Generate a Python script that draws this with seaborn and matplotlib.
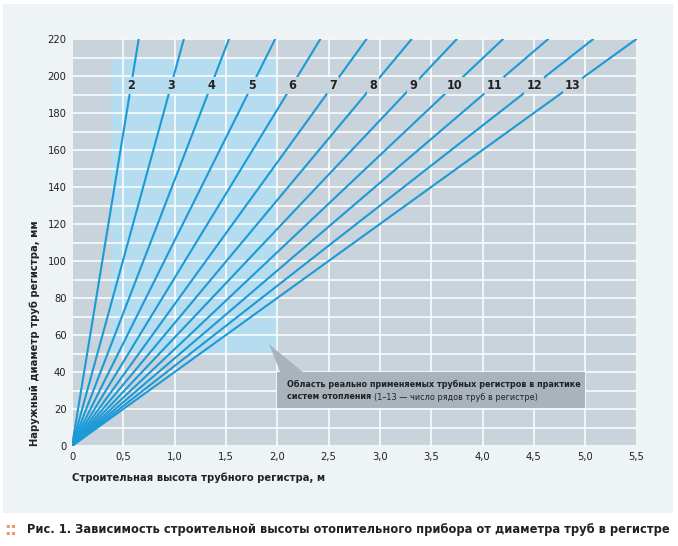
import matplotlib
matplotlib.use("Agg")
import matplotlib.pyplot as plt
from matplotlib.patches import Rectangle, Polygon
from matplotlib.ticker import FuncFormatter, MultipleLocator
import pandas as pd
import seaborn as sns

# number of pipe rows and the register height (m) where each line reaches d = 220 mm
rows = [2, 3, 4, 5, 6, 7, 8, 9, 10, 11, 12, 13]
height_at_220 = [0.65, 1.09, 1.53, 1.98, 2.42, 2.87, 3.31, 3.75, 4.20, 4.64, 5.08, 5.50]
d_top = 220
label_d = 195

x_ticks = [0, 0.5, 1.0, 1.5, 2.0, 2.5, 3.0, 3.5, 4.0, 4.5, 5.0, 5.5]
y_ticks = list(range(0, 221, 20))

# practical area (x0, x1, y0, y1)
area = [0.38, 2.0, 50, 210]

BG = "#eef3f6"
AX_BG = "#c9d3db"
AREA = "#b6dcf0"
LINE = "#1b9ad6"
BOX = "#a8b3bc"
TXT = "#222222"

sns.set_theme(style="whitegrid")
plt.rcParams["font.family"] = ["DejaVu Sans"]
plt.rcParams["font.stretch"] = "condensed"

fig = plt.figure(figsize=(6.78, 5.46), dpi=100)
fig.patch.set_facecolor("white")
fig.patches.append(Rectangle((3 / 678, 1 - 513 / 546), 670 / 678, 509 / 546,
                             transform=fig.transFigure, facecolor=BG, edgecolor="none", zorder=-5))

ax = fig.add_axes([72 / 678, 1 - 446 / 546, (636.5 - 72) / 678, (446 - 39) / 546])
ax.set_zorder(2)
ax.set_facecolor(AX_BG)

rec = []
for n, h in zip(rows, height_at_220):
    rec.append({"n": n, "x": 0.0, "d": 0})
    rec.append({"n": n, "x": h, "d": d_top})
df = pd.DataFrame(rec)

ax.add_patch(Rectangle((area[0], area[2]), area[1] - area[0], area[3] - area[2],
                       facecolor=AREA, edgecolor="none", zorder=0.5))

sns.lineplot(data=df, x="x", y="d", hue="n", palette=[LINE] * len(rows),
             linewidth=1.5, legend=False, ax=ax, zorder=3)

for n, h in zip(rows, height_at_220):
    xl = h * label_d / d_top
    fc = AREA if xl < area[1] else AX_BG
    ax.text(xl, label_d, str(n), ha="center", va="center", fontsize=9, fontweight="bold",
            color=TXT, zorder=4, bbox=dict(boxstyle="square,pad=0.15", fc=fc, ec="none"))

# annotation box with pointer
ax.add_patch(Polygon([[1.92, 55], [2.03, 40], [2.25, 40]], closed=True,
                     facecolor=BOX, edgecolor="none", zorder=4))
ax.add_patch(Rectangle((2.0, 20.5), 3.0, 19.5, facecolor=BOX, edgecolor="none", zorder=4))
ax.text(2.09, 33.5, "Область реально применяемых трубных регистров в практике",
        fontsize=6.5, fontweight="bold", color=TXT, va="center", ha="left", zorder=5)
t = ax.text(2.09, 26.5, "систем отопления ", fontsize=6.5, fontweight="bold",
            color=TXT, va="center", ha="left", zorder=5)
ax.annotate("(1–13 — число рядов труб в регистре)", xycoords=t, xy=(1, 0.5),
            va="center", ha="left", fontsize=6.5, color=TXT, zorder=5)

ax.set_xlim(0, 5.5)
ax.set_ylim(0, 220)
ax.set_xticks(x_ticks)
ax.set_yticks(y_ticks)
ax.yaxis.set_minor_locator(MultipleLocator(10))
ax.xaxis.set_major_formatter(FuncFormatter(lambda v, p: "0" if v == 0 else f"{v:.1f}".replace(".", ",")))
ax.grid(True, which="major", color="white", linewidth=1.1, zorder=1)
ax.grid(True, which="minor", axis="y", color="white", linewidth=1.1, zorder=1)
ax.set_axisbelow(True)
for s in ax.spines.values():
    s.set_visible(False)
ax.tick_params(axis="both", which="both", length=0, labelsize=8, colors=TXT, pad=4)

ax.set_xlabel("Строительная высота трубного регистра, м", loc="left", fontsize=8,
              fontweight="bold", color=TXT, labelpad=8)
ax.set_ylabel("Наружный диаметр труб регистра, мм", loc="bottom", fontsize=8,
              fontweight="bold", color=TXT, labelpad=5)

fig.text(0.006, 1 - 530 / 546, "::", color="#f0926a", fontsize=13, fontweight="bold", va="center")
fig.text(0.04, 1 - 530 / 546,
         "Рис. 1. Зависимость строительной высоты отопительного прибора от диаметра труб в регистре",
         fontsize=9.2, fontweight="bold", color=TXT, va="center", ha="left")

fig.savefig("out.png", dpi=100, facecolor=fig.get_facecolor())
